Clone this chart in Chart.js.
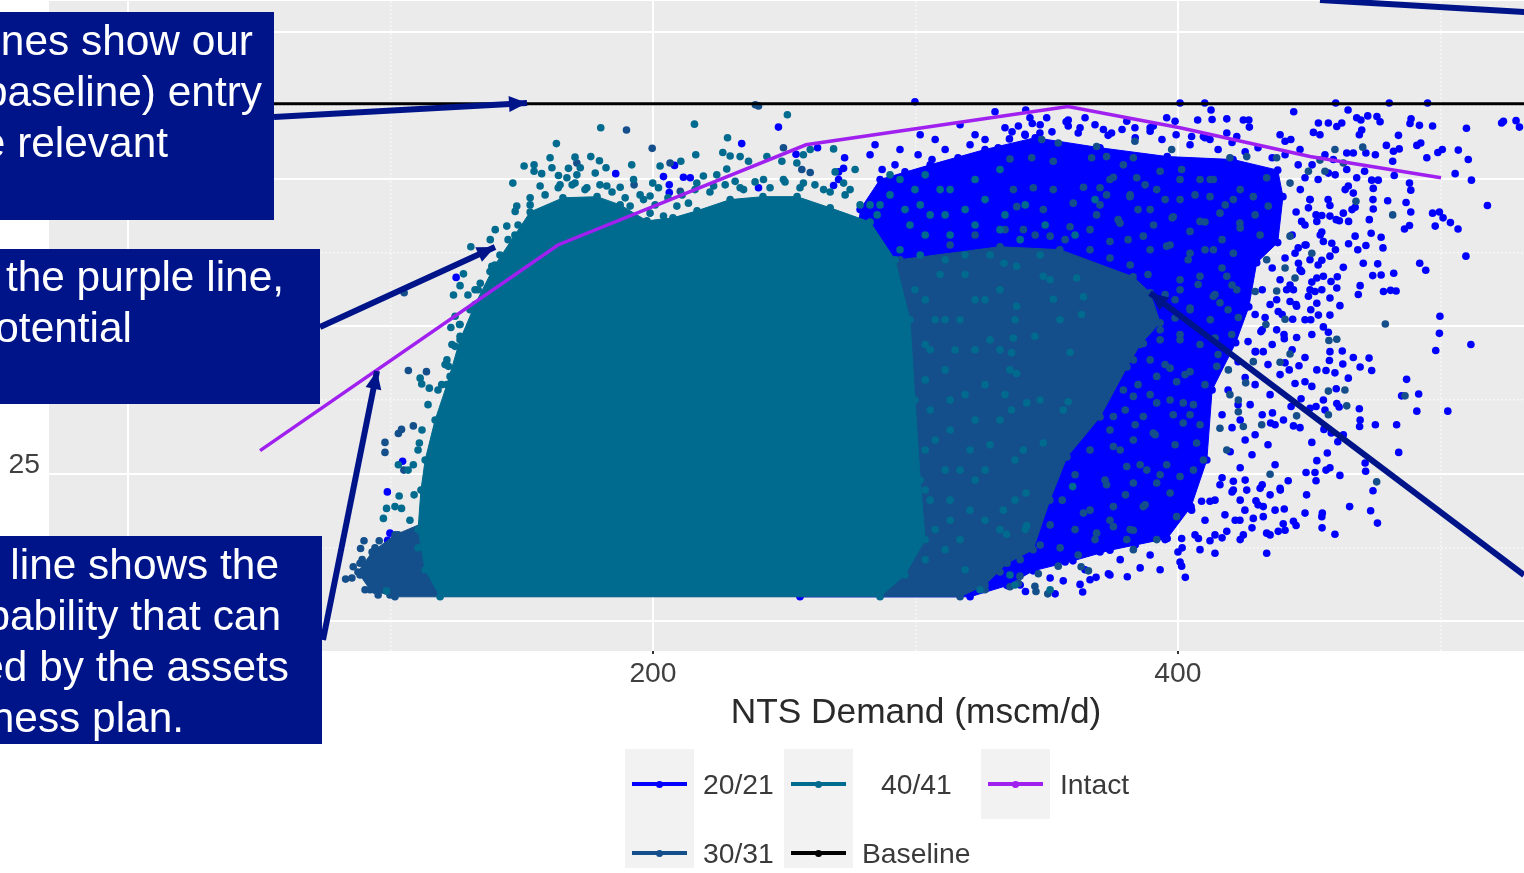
<!DOCTYPE html>
<html>
<head>
<meta charset="utf-8">
<title>NTS Demand</title>
<script src="https://cdn.jsdelivr.net/npm/chart.js@4"></script>
<style>
    html, body { margin: 0; padding: 0; background: #fff; }
    #stage { position: relative; width: 1524px; height: 873px; overflow: hidden; font-family: "Liberation Sans", Arial, sans-serif; }
    #chart { position: absolute; left: 0; top: 0; }
    svg { position: absolute; left: 0; top: 0; }
    .box { position: absolute; left: 0; background: #00148a; }
    .note { position: absolute; color: #fff; font-size: 42.4px; line-height: 51px; white-space: nowrap; text-align: right; }
    .key { position: absolute; width: 69px; background: #f2f2f2; }
    .key i { position: absolute; left: 7px; width: 55px; height: 4px; }
    .key b { position: absolute; left: 31px; width: 7px; height: 7px; border-radius: 50%; }
    .lab { position: absolute; color: #3a3a3a; font-size: 28.3px; line-height: 32px; white-space: nowrap; }
</style>
</head>
<body>
<div id="stage">
    <canvas id="chart" width="1783" height="873"></canvas>
    <svg width="1524" height="873" id="arrows"></svg>
</div>
<script>
    // Series names and axis ticks
    const seriesNames = ['20/21', '30/31', '40/41', 'Baseline', 'Intact'];
    const seriesColors = ['#0000ff', '#144f8b', '#006b8e', '#000000', '#a020f0'];
    const yTickValues = [25, 50, 75, 100];

    // Lines, x in mscm/d
    const baselineX = [-30, 631];
    const baselineY = [87.75, 87.75];
    const intactX = [50.3, 163.8, 258.3, 358.1, 400.8, 450.3, 500.2];
    const intactY = [28.9, 63.8, 80.8, 87.3, 83.7, 78.8, 75.2];

    // Solid parts of the clouds, outline
    const blueOutline = [[278.9,69.8],[286.5,74.9],[305.6,77.4],[326.5,80],[345.6,82],[370.3,80.3],[395.9,78.8],[421,78.3],[438,76.5],[440,72],[438,64.2],[430,60.8],[427,53.3],[422,47.2],[413,39.2],[411,27.3],[405,19.4],[395.9,14],[374.1,12],[360,10.2],[344.8,8.5],[334.9,6],[320.8,4.1],[256,4.1]];
    const midOutline = [[294.1,61.3],[332.2,63.5],[355,63],[382.9,58.4],[389.4,55.7],[393.2,50.6],[385.6,46.9],[380.6,43.1],[370.3,34.6],[357.7,27.8],[351.2,20.5],[344.8,12.1],[334.9,9.8],[326.5,6.1],[317,4.1],[101.7,4.1],[92.2,5.3],[87.6,8.3],[93,11.7],[101.7,14.6],[115,17.1]];
    const tealOutline = [[118.9,4.1],[113.2,8.7],[110.5,15.5],[111.6,22.2],[113.2,27.3],[117,34.1],[121.5,40.1],[126.5,47.7],[132.2,53.7],[139.8,60.4],[147.4,65.5],[153.2,69.4],[165.7,71.8],[178.7,72],[187.5,70.6],[197.7,67.9],[207.6,68.4],[216.8,69.6],[229.4,71.5],[241.9,72],[254.9,72],[267.5,70.1],[282.7,67.7],[292.2,61.3],[297.9,51.1],[299.8,37.5],[301.8,23.9],[303.7,13.8],[296,7.8],[286.5,4.1]];

    // Loose points around the clouds
    const bluePoints = [[400.8,87.9],[410.2,87.9],[460.1,87.9],[480.5,87.9],[495.1,87.9],[412.6,86.7],[444.1,86.4],[464.8,86.7],[472.3,85.7],[475.8,85.6],[477,84.7],[488.8,85.2],[488.4,84.4],[492,84.1],[497,84],[509.9,83.6],[524,84.8],[523.3,84.5],[528.8,84.9],[530.1,83.8],[407.5,85],[413,85.1],[418.6,85.2],[424.9,85],[427,85],[427.2,83.8],[453.5,84.5],[457.3,84.5],[460.5,83.9],[462.4,84.5],[468.1,85.4],[469.7,85],[470,83.3],[469.1,82.5],[484,82.4],[451.6,82.9],[454.1,82.5],[438.9,82.5],[440.8,81.4],[443,81.7],[479.4,80.7],[482.1,79.7],[484.3,80.1],[491,80.7],[492.5,81.1],[506.8,79.9],[500.7,80],[499,79.5],[494.8,78.6],[510.6,78.3],[505.6,75.9],[511.8,74.8],[517.9,70.5],[497,69.2],[499.6,69.4],[501,68.4],[503.8,67.6],[506.7,66.5],[498,67],[509.7,61.9],[492.1,60.7],[494.4,59.5],[499.8,51.7],[499.6,48.8],[511.6,46.9],[498.2,45.9],[487.1,41],
        [491.7,38.5],[485.2,38.2],[491,35.6],[502.8,35.6],[483.3,33.3],[484.1,28.6],[475.2,33.3],[469.1,36],[469.4,34.1],[469.2,33],[471.3,26.8],[471.5,25.4],[474.3,22.1],[465.4,19.4],[473.4,18.7],[476,16.6],[459.8,14.7],[454.9,15.8],[454.8,17.7],[455,18.3],[448.4,18.3],[449,21.4],[461.7,24.7],[457.9,26],[456.4,25.6],[452.2,25.2],[452.6,23.8],[448.8,25.2],[452.9,27.2],[456.9,28.5],[451,30.3],[460.9,30.4],[463,31.6],[458.4,31.9],[455.6,32.5],[446.5,32.8],[444,33.1],[440.2,34.1],[435.3,33.6],[436,35.3],[461.4,36.3],[460.5,36.9],[456,35.8],[452.6,36.4],[450.3,36.1],[455.4,37.5],[446.9,37.7],[443.1,36.4],[460.3,39.4],[451,39.8],[448.4,40.6],[444.6,40.3],[433.8,11.5],[402.8,7.4],[401.4,9.3],[400,11.7],[380.7,7.5],[373.5,8],[368.8,7.4],[363.7,4.9],[362.7,6.2],[356.3,6.8],[353.2,4.6],[341.9,5],[440.8,15.4],[444,16.9],[445,16.2],[440.1,16.5],[438.2,15.2],[435.1,14.6],[432.5,19.4],[429.7,20.4],[425.5,18.8],[423.6,17.1],[424.9,14.6],[418.6,15.2],[412.2,13.6],[407.8,14],[401.4,14],[440.5,19],[435.1,21.4],[438.9,22.5],[442,23.8],[426.2,22.2],[421.1,23.7],[431.3,22.5],[416,23.1],[421.1,22.2],[412.2,20.3],[409,20.3],[405.2,18.8],[432.5,17.7],[428.7,17.4],[433.8,14.9],
        [482.2,59],[478.3,55.9],[481,56.1],[483.1,56],[477.4,58.7],[474.2,58.6],[476.1,60.6],[470.6,60.7],[463,60],[477.4,65.1],[478.1,63.3],[473.6,65.8],[467.5,65.3],[471.6,63.7],[468.5,63],[465,64],[486.3,66.5],[488.2,67.1],[488.7,69.4],[479.9,71.3],[486.9,71],[474.3,71.5],[474.4,69.9],[472.9,68.1],[465,67.8],[461.5,67.9],[463,69.2],[467.5,70.2],[474.4,73.4],[473.8,74.8],[476.3,74.8],[488.2,74.3],[488.7,73.1],[482.4,75.6],[481.8,78],[471.1,76.3],[475.2,79.1],[471.6,79.4],[466.8,79.4],[464.3,79.4],[459.2,78.3],[457.3,76],[464.3,76.6],[468.1,75.2],[464.9,73.8],[466.8,72.6],[457.9,70.5],[469.4,56.9],[468.7,55.4],[460.7,58.4],[458.3,57.6],[455.4,58.5],[452.9,58.2],[451,57.5],[452.2,55.9],[454.8,56.2],[460.5,56.5],[457.9,54.8],[461.7,53.5],[452.9,53.9],[449.7,55.1],[450.6,52.8],[453.5,51.9],[457.9,51.9],[450.6,51.1],[443.7,51.2],[438.2,52.5],[437.6,54.5],[442.7,54.2],[445.2,53.4],[433.2,51.5],[431.6,49.1],[437.6,49.4],[440.5,47.9],[445.2,48.1],[451,48.6],[455.4,49.9],[457.3,49],[457.9,45.7],[462.6,45.8],[466.8,44.7],[472.8,44.6],[469.4,43.1],[462.8,43.6],[457.7,44.2],[459.8,42.1],[464.9,41.2],[456.4,42.5],[452.9,42.6],[473.8,42.5],[448.4,44.7],[446.1,43.3],[442.4,42.6],[440.8,43.8],[432.5,45.7],[429.6,45.7],[454.8,61.2],[457.9,61.9],[454.8,66],[458.6,64.1],[455.4,64.4],[452.9,67.8],[454.8,68.8],[457.9,68.7],[449.7,70.1],[450.3,71.5],[447.1,67.8],[448.4,63.8],[444.6,62.4],[450.3,61.3],[445.9,60.7],[447.1,59.3],[444,56.2],[441.4,56.2],
        [342,86.7],[350,85.4],[344.5,84.4],[339.2,84],[358.2,85],[364.6,85.4],[380.5,84.8],[383.6,83.7],[395.7,85.4],[398.9,84.8],[390.6,84],[335.8,81.8],[341.7,82.6],[347.4,82.8],[358.2,84],[362,82.8],[371.6,83.4],[374.7,82.8],[389.4,83.1],[405.2,82.2],[409.7,82.2],[412.2,81.7],[422.4,82.2],[418.6,82.8],[299.8,88.1],[330.3,86.4],[343.6,85.4],[317,84.2],[301.8,82.5],[284.6,80.8],[282.7,79.1],[294.1,80],[307.5,81.7],[322.7,82.5],[334.1,83.7],
        [247.8,83.8],[233.8,81],[185.8,75.9],[125,58.3],[204,75.4],[208.2,77.3],[211.6,75.3],[214.2,75.2],[206.2,74],[206.2,72.7],[273,78.6],[262.7,80.3],[272.6,76.8],[270.7,76.2],[270.7,74.9],[268.8,73.9],[254.5,79.2],[240.2,73.5],[194.5,62],[104.6,27.1],[98.8,21.9],[99.8,14.9],[98.9,13.7],
        [287.3,76.6],[292.2,77.4],[296,76.2],[301,79.1],[306.3,78.3],[311.3,80],[316.2,78.6],[320.8,80.8],[326.5,81.7],[331.5,80.3],[336.8,83],[341.8,82.4],[347.5,84.2],[352,83],[357.4,84.7],[362.7,83.7],[368.4,84.2],[373.4,82.4],[378.7,83.4],[383.7,82],[389.4,83.7],[393.9,81.7],[399.3,82.5],[404.6,80.8],[410.3,82],[415.3,80],[420.6,81.2],[425.6,79.6],[430.5,80.3],[435.9,78.6],[440.8,79.1],[445.8,77.4],[448.4,75.2],[446.6,73.2],[450.3,71.5],[445,69.4],[448.4,67.2],[443.5,65.5],[445.8,63.3],[440.8,61.6],[435.9,59.9],[438.9,57.9],[432.1,56.2],[435.1,53.7],[429.4,52],[432.1,49.4],[426.7,47.4],[429.4,45.7],[422.9,44],[425.6,41.3],[419.1,39.2],[422.9,36.7],[416.8,35],[420.6,32.8],[425.6,30.7],[419.9,28.7],[423.7,26],[416.8,24.3],[420.6,21.9],[414.1,20.5],[417.9,18],[410.3,17.1],[414.1,14.6],[406.5,14.6],[401.6,12.4],[395.1,13.8],[389.4,11.2],[383.7,12.9],[378,10.4],[370.3,11.7],[364.6,8.7],[357,10],[351.3,7.3],[345.6,8.7],[339.9,6.1],[332.2,7],
        [446.5,80],[451.1,77.4],[456,79.1],[453.4,74.9],[459.9,75.7],[463.7,73.2],[457.2,71.5],[452.6,68.9],[460.3,68.1],[466.3,69.8],[454.2,65.5],[448.8,63.8],[460,63],[453.4,60.4],[446.5,59.6],[442.7,57],[450.3,56.2],[445,53.7],[439.7,52],[448.4,51.1],[440.4,48.6],[435.9,46.9],[443.5,46],[434.3,43.5],[438.9,41.8],[429.4,40.1],[435.1,38.4],[427.5,36.7],[432.1,35],[437,33.3],[429.4,31.6],[423.7,34.1],[434.3,29.9],[428.2,28.2],[437,26.5],[425.6,23.9],[432.1,23.1],[439,22.2],[423.7,20.5],[430.5,19.7],[437,18.8],[421.8,17.1],[428.2,15.8],[416.8,14.1],[423.7,13.8],[408.4,12.1],[414.1,11.5],[400.8,10],[393.2,8.7],[385.6,9],[374.1,7.8],[366.5,7]];

    const midPoints = [[336,78.4],[344.3,78.6],[352.5,78],[348.1,81.7],[354.4,81.1],[367.1,78.6],[369,80.5],[372.8,78.8],[383,78.6],[383.6,81.4],[379.2,77.4],[393.2,76.3],[401.4,76.6],[397.6,80],[413.5,74.9],[408.4,74.9],[419.8,78.6],[426.2,78.8],[433.8,75.2],[437.6,78.6],[442.7,74.3],[449.7,76.3],[456,76.3],[454.1,78.2],[459.8,80],[463,77.7],[470.4,80.4],[467.8,71.2],[481.8,68.9],[451,62.4],[442.7,65.3],[440.8,59.9],[444.6,58.2],[437.6,56],[429.4,55.9],[433.8,61.3],[423,51.5],[440.8,51.2],[433.5,50.3],[479,50.4],[457.5,47.6],[460.5,47.8],[442.7,45.3],[438.9,43.9],[414.8,43.2],[428.7,44],[420.5,48.6],[414.1,48],
        [337.3,73.2],[344.9,73.5],[352.5,73.2],[364,73.6],[370.3,73.5],[375.4,75.3],[384.3,75.2],[391.9,73.2],[400.8,71.5],[412.2,72],[421.1,71.5],[428.7,72],[434.4,70.4],[338.6,70.3],[348.7,69.8],[360.1,70.9],[372.8,72.3],[381.7,72],[389.4,69.8],[398.2,68.6],[408.4,67.8],[416,69.2],[423.6,67.5],[431.3,65.5],[341.1,66.4],[351.3,65.3],[358.9,66.9],[369,68.9],[377.9,67.5],[386.8,65.3],[395.7,63.6],[404.6,62.4],[413.5,63],[421.1,62.4],[408.4,58.5],[418.6,58.5],[413.5,55.1],[404.6,53.1],[422.4,56.2],[416,54],[400.8,56.2],
        [386.8,47.1],[393.2,49.4],[400.8,48.6],[383,44.3],[391.9,41.5],[399.5,40.6],[397,42.9],[404.6,42.3],[419.2,42.6],[425.8,40.4],[423,37.5],[423,35.5],[419.8,38.4],[405.9,36.7],[402,37],[391.9,37],[383,38.1],[379.2,39.2],[375.4,34.7],[386.8,34.7],[398.2,35],[408.4,33.3],[416,32.7],[424.9,33],[431.9,33.3],[445.2,34.8],[457.3,35],[464.3,36.5],[457.3,39],[463.6,39.2],[486.5,38.2],[475.7,23.6],[435.1,24.9],[418.6,29],[409.7,27.3],[407.1,30.2],[402,33.6],[395.7,26.5],[390.6,31.9],[383,30.7],[375.4,29.6],[388.1,25.6],[400.8,24.5],[405.9,25.6],[391.9,23.4],[380.5,26.2],[372.8,23.1],[383,23.4],[397,21.7],[386.8,19.4],[375.4,19.4],[399.5,17.7],[383,15.4],[375.4,16],[364,18.3],[369,14.9],[380.5,13.8],[391.9,13.8],[383,12.1],[354.4,9.3],[363.1,9.2],[365.9,8.5],[346.8,8],[339.8,7.6],[345.5,5.9],[345.9,5],[336,5.8],[339.2,6.4],[350.4,4.6],
        [108.7,33.1],[103,31.8],[104.2,32.5],[97.9,30.3],[97.9,28.6],[105.1,25.6],[89.9,13.6],[88.6,12.3],[95.7,13.6],[88.4,9.8],[85.8,9.2],[82.9,7.1],[88.4,7.8],[90.9,7.5],[94.1,5.2],[189.9,83.3],[199.7,80.2],[106.8,42.5],[113.7,42.3],[105.2,55.7],[240.2,87.4],[249.7,80.3],[256.7,76.6],[259.9,76.1],[171,77.7],[206.5,77.7],[210.4,72.9],[192.8,74],[239,87.6],
        [313.2,63.8],[322.7,65.5],[334.1,66.4],[345.6,65.5],[357,64.7],[366.5,63],[374.1,61.6],[381.8,60.4],[388.6,58.8],[395.1,55.4],[398.9,51.4],[393.2,47.7],[389.4,44.3],[384.8,40.1],[379.9,35.8],[374.1,32.4],[366.5,29],[360.8,24.8],[355.9,20.5],[351.3,16.3],[347.5,12.9],[339.9,10.4],[332.2,8.3],[326.5,5.3],[89.2,10.4],[94.1,12.4],[85.3,7.3],[90.3,5.3],[95.3,4.4],[99.8,4.4],[105.5,12.9],[102.9,14.6],
        [374.1,74.9],[381.8,72.3],[387.5,74],[395.1,71.5],[400.8,74.9],[406.5,72.3],[412.3,74.9],[418,70.6],[423.7,73.2],[429.4,68.9],[370.3,70.6],[377.2,68.1],[384.8,69.8],[390.7,67.2],[397.8,68.4],[404.6,66.1],[410.3,67.7],[416.8,64.7],[423.7,66.7],[366.5,66.4],[374.1,64.4],[381,64.7],[389.4,63],[397,63.8],[403.9,61.3],[410.3,63],[416.8,59.9],[400.8,57.9],[407.7,57.1],[414.1,55.4],[420.6,57],[398.9,54.5],[404.6,52.8],[412.3,51.1],[419.1,52.8],[400.8,47.7],[408.4,46.9],[415.3,45.2],[395.1,43.5],[402.7,41.8],[410.3,40.1],[389.4,38.4],[397,37.5],[404.6,35],[383.7,33.3],[391.3,31.6],[398.9,29.9],[378,29],[385.6,26.5],[393.2,24.8],[372.2,23.9],[380,21.4],[387.5,19.7],[366.5,18.8],[374.1,17.1],[381.8,15.5],[360.8,15.5],[368.4,13.8],[355.1,12.4],[362,11.2]];

    const tealPoints = [[180.1,83.7],[215.8,84.3],[251.2,85.9],[163.2,81],[228.4,82],[216.3,79.1],[226.6,79.5],[229.4,78.9],[210.6,78],[191.9,77.4],[202.7,77.2],[160.8,78.6],[161.5,76.9],[170.3,78.7],[176.3,78.8],[179.6,78.1],[150.9,77.2],[154.7,77.4],[154.7,76.3],[157.6,75.9],[167.8,76.8],[172.3,76.9],[178,76],[182.1,76.9],[164,75.6],[167.2,75.2],[171,75.7],[146.6,74.3],[157,73.8],[164.6,74],[170.3,74.3],[174.8,73.5],[182.4,73.8],[187.5,73.6],[192.6,74.9],[199.9,74.3],[202.1,73.5],[216.7,74.3],[219.2,75.5],[224.3,75.7],[228.1,76.7],[231.3,74.6],[233.2,78.8],[236.4,78],[243.4,78.8],[249.1,78],[254.8,77.7],[257.3,79.1],[259.9,80],[268.8,80.1],[153.2,71.8],[148.1,70.4],[147.5,69.5],[144.3,67],[139.9,66.4],[138,64.7],[130.6,63.5],[127.8,58.9],[126.5,56.9],[124,55.3],[129.5,55.3],[134.2,57.3],[132.2,56.2],[138.6,60.2],[139.2,58.5],[124.6,51.7],[123,49.8],[126.3,50.3],[126.5,48.3],[124.6,46.6],[121.5,44.3],[122.1,43.2],[111.3,41.2],[111.9,40.2],[114.8,39.5],[119.5,40.1],[122.7,41.5],[198.9,72.1],[196.4,71.5],[191.3,70.4],[198.9,69.2],[209.1,70.4],[204,68.7],[213.5,70.9],[223.1,73.8],[234.5,73.2],[242.1,74.9],[249.7,74.9],[257.3,74.3],[265,73.2],[272.6,74.3],
        [111,30.2],[103,26.5],[108.7,26.5],[103.3,21.2],[98.5,19.1],[101.7,19.4],[104.2,19.1],[97.3,17.4],[98.5,5.1],
        [297.9,67.2],[305.6,68.9],[313.2,65.5],[322.7,67.2],[332.2,66.4],[339.9,64.7],[301.8,62.1],[311.3,61.3],[318.9,62.1],[328.4,62.1],[347.5,62.1],[303.7,54.5],[311.3,51.1],[305.6,46],[315.1,46],[303.7,40.9],[313.2,37.5],[307.5,30.7],[317,25.6],[305.6,20.5],[313.2,17.1],[303.7,10.4],[322.7,54.5],[328.4,47.7],[336,42.6],[332.2,34.1],[322.7,34.1],[320.8,18.8],[326.5,25.6],[311.3,12.1],[318.9,8.7],[332.2,56.2],[351.3,57.9],[337.9,51.1],[355.1,51.1],[347.5,37.5],[337.9,27.3],[341.8,15.5],[309.4,73.2],[299.8,73.2],[290.3,72.3],[282.7,70.6],[275.1,73.2],[277,76.6],[269.4,76.2],[290.3,75.7],[336,7.8],[324.6,5.3],[351.3,5.3],[337.9,6.1],
        [333.7,60.7],[338.5,60.2],[348.7,58.5],[361.4,58.2],[352.5,54.6],[364,55],[338.5,53.4],[363.3,52],[337.3,48],[345.5,48.3],[358.9,45.6],[336.6,45.5],[338.5,42],[342.4,37],[358.2,37.2],[356.3,35.8],[336.6,35.8],[348.7,30.2],[341.1,29],[342.1,21.7],[359.9,22.8],[342.4,16.2],[334.7,14.7],[333.5,18.8],
        [114.3,10.4],[110.5,12.4],[107.4,17.1],[109,21.4],[106.7,25.6],[110.5,29],[112,32.4],[114.3,36.7],[118.1,39.2],[120.8,43.5],[123.4,46.9],[126.5,50.3],[130.3,52.8],[133.4,56.2],[137.9,59.3],[141.7,62.1],[144.8,64.7],[148.6,67.2],[153.2,70.6],[158.9,72.3],[163.9,73.5],[169.2,74],[174.1,73.2],[179.8,74],[184.4,72.8],[189.4,71.8],[195.1,72.3],[200.8,70.6],[205.7,71.8],[211.1,72.3],[216,73.2],[221.7,72.8],[227.5,74],[233.2,73.5],[238.9,74.5],[244.6,73.5],[250.3,74.5],[256,73.5],[261.7,74],[267.5,72.8],[273.2,72.3],[278.9,70.6],[285.4,68.9],[294.1,63],[299.8,56.2],
        [303.7,65.5],[309.4,58.8],[307.5,51.1],[303.7,46.9],[311.3,42.6],[318.9,38.4],[305.6,35.8],[313.2,32.4],[303.7,29],[311.3,25.6],[303.7,22.2],[322.7,23.9],[313.2,20.5],[307.5,15.5],[317,13.8],[326.5,17.1],[318.9,58.8],[326.5,54.5],[317,51.1],[322.7,46],[332.2,46],[326.5,40.1],[334.1,38.4],[328.4,29.9],[320.8,29],[337.9,20.5],[332.2,15.5],[286.5,70.6],[296,69.8],[301.8,70.6],[311.3,68.9],[318.9,69.8],[326.5,71.5],[334.1,68.9],[341.8,70.6],[349.4,67.2],[360.8,65.5],[368.4,71.5],[294.1,74.9],[303.7,75.7],[313.2,73.2],[322.7,74.9],[332.2,76.6]];

    // Annotation boxes and their visible text
    const noteBoxes = [
        { top: 12, width: 274, height: 208 },
        { top: 249, width: 320, height: 155 },
        { top: 536, width: 322, height: 208 }
    ];
    const noteLines = [
        ['nes show our', 253, 40], ['baseline) entry', 262, 91], ['e relevant', 168, 142],
        ['the purple line,', 284, 276], ['otential', 132, 327],
        ['line shows the', 279, 564], ['pability that can', 281, 615], ['ed by the assets', 289, 666], ['ness plan.', 184, 717]
    ];
    const arrowLines = [
        [274, 117, 527, 103],
        [320, 327, 495, 247],
        [323, 640, 377, 371],
        [1524, 575, 1150, 293],
        [1320, 0, 1540, 13]
    ];

    const legendKeys = [
        { series: 0, left: 625, top: 749, height: 70, cy: 35, label: 703, labelY: 784 },
        { series: 1, left: 625, top: 819, height: 49, cy: 34, label: 703, labelY: 853 },
        { series: 2, left: 784, top: 749, height: 70, cy: 35, label: 881, labelY: 784 },
        { series: 3, left: 784, top: 819, height: 49, cy: 34, label: 862, labelY: 853 },
        { series: 4, left: 981, top: 749, height: 70, cy: 35, label: 1060, labelY: 784 }
    ];

    const toXY = pairs => pairs.map(p => ({ x: p[0], y: p[1] }));
    const zipXY = (xs, ys) => xs.map((x, i) => ({ x, y: ys[i] }));

    function areaSet(pairs, color, order) {
        return {
            yAxisID: 'y', data: toXY(pairs), showLine: true, fill: 'shape', backgroundColor: color,
            borderColor: color, borderWidth: 1, pointRadius: 3.8,
            pointBackgroundColor: color, pointBorderWidth: 0, order
        };
    }
    function pointSet(pairs, color, order) {
        return {
            yAxisID: 'y', data: toXY(pairs), showLine: false, pointRadius: 3.8,
            pointBackgroundColor: color, pointBorderWidth: 0, order
        };
    }
    function lineSet(points, color, width, order) {
        return { yAxisID: 'y', data: points, showLine: true, borderColor: color, borderWidth: width, pointRadius: 0, fill: false, order };
    }

    const panelBackground = {
        id: 'panelBackground',
        beforeDraw(chart) {
            const a = chart.chartArea;
            chart.ctx.fillStyle = '#ebebeb';
            chart.ctx.fillRect(a.left, a.top, a.width, a.height);
        }
    };

    const inRange = s => { s.ticks = s.ticks.filter(t => t.value >= s.min && t.value <= s.max); };
    const noPadding = s => { s.paddingTop = 0; s.paddingBottom = 0; s.paddingLeft = 0; s.paddingRight = 0; };

    new Chart(document.getElementById('chart'), {
        type: 'scatter',
        data: {
            datasets: [
                areaSet(blueOutline, seriesColors[0], 70),
                pointSet(bluePoints, seriesColors[0], 60),
                areaSet(midOutline, seriesColors[1], 50),
                pointSet(midPoints, seriesColors[1], 40),
                areaSet(tealOutline, seriesColors[2], 30),
                pointSet(tealPoints, seriesColors[2], 20),
                lineSet(zipXY(baselineX, baselineY), seriesColors[3], 3, 10),
                lineSet(zipXY(intactX, intactY), seriesColors[4], 3.5, 5)
            ]
        },
        options: {
            responsive: false,
            animation: false,
            layout: { autoPadding: false, padding: { top: 1, left: 0, right: 0, bottom: 0 } },
            plugins: { legend: { display: false }, tooltip: { enabled: false } },
            scales: {
                x: {
                    type: 'linear', min: -30.1, max: 630.5,
                    afterBuildTicks: inRange,
                    afterFit(s) { s.height = 222; noPadding(s); },
                    border: {
                        display: false,
                        dash: c => (c.tick && c.tick.value % 200 === 0 ? [] : [2, 2])
                    },
                    grid: {
                        color: c => (c.tick && c.tick.value % 200 === 0 ? '#ffffff' : '#f7f7f7'),
                        lineWidth: c => (c.tick && c.tick.value % 200 === 0 ? 2 : 1.5),
                        tickColor: c => (c.tick && c.tick.value % 200 === 0 ? '#333333' : 'rgba(0,0,0,0)'),
                        tickLength: 3
                    },
                    ticks: {
                        stepSize: 100, includeBounds: false, autoSkip: false, maxRotation: 0, padding: 3,
                        color: '#404040', font: { family: 'Liberation Sans', size: 28.3 },
                        callback: v => (v % 200 === 0 ? String(v) : '')
                    },
                    title: {
                        display: true, text: 'NTS Demand (mscm/d)', color: '#2a2a2a',
                        font: { family: 'Liberation Sans', size: 35.3 },
                        padding: { top: 0, bottom: 139 }
                    }
                },
                yLabels: {
                    type: 'linear', position: 'left', min: -6.45, max: 103.85,
                    afterBuildTicks(s) { s.ticks = yTickValues.map(value => ({ value })); },
                    afterFit(s) { s.width = 49; noPadding(s); },
                    border: { display: false },
                    grid: { display: false, drawTicks: false },
                    ticks: {
                        padding: 9, autoSkip: false, color: '#404040',
                        font: { family: 'Liberation Sans', size: 28.3 }
                    }
                },
                y: {
                    type: 'linear', position: 'left', min: -5.1, max: 105.2,
                    afterBuildTicks: inRange,
                    afterFit(s) { s.width = 0; noPadding(s); },
                    border: {
                        display: false,
                        dash: c => (c.tick && c.tick.value % 25 === 0 ? [] : [2, 2])
                    },
                    grid: {
                        color: c => (c.tick && c.tick.value % 25 === 0 ? '#ffffff' : '#f7f7f7'),
                        lineWidth: c => (c.tick && c.tick.value % 25 === 0 ? 2 : 1.5),
                        tickColor: c => (c.tick && c.tick.value === 25 ? '#333333' : 'rgba(0,0,0,0)'),
                        tickLength: 3
                    },
                    ticks: { stepSize: 12.5, includeBounds: false, autoSkip: false, display: false }
                }
            }
        },
        plugins: [panelBackground]
    });

    // Arrows over the chart
    const svgNS = 'http://www.w3.org/2000/svg';
    const svg = document.getElementById('arrows');
    arrowLines.forEach((a, i) => {
        const line = document.createElementNS(svgNS, 'line');
        line.setAttribute('x1', a[0]); line.setAttribute('y1', a[1]);
        line.setAttribute('x2', a[2]); line.setAttribute('y2', a[3]);
        line.setAttribute('stroke', '#00148a');
        line.setAttribute('stroke-width', 6);
        svg.appendChild(line);
        if (i === 4) return;
        // arrow head at the end of the line
        const ang = Math.atan2(a[3] - a[1], a[2] - a[0]);
        const head = [[0, 0], [-18, -8], [-18, 8]].map(p => {
            const hx = a[2] + p[0] * Math.cos(ang) - p[1] * Math.sin(ang);
            const hy = a[3] + p[0] * Math.sin(ang) + p[1] * Math.cos(ang);
            return hx + ',' + hy;
        }).join(' ');
        const tip = document.createElementNS(svgNS, 'polygon');
        tip.setAttribute('points', head);
        tip.setAttribute('fill', '#00148a');
        svg.appendChild(tip);
    });

    // Boxes, their text and the legend are plain elements on top
    const stage = document.getElementById('stage');
    function addEl(cls, css, text) {
        const el = document.createElement('div');
        el.className = cls;
        Object.assign(el.style, css);
        if (text) el.textContent = text;
        stage.appendChild(el);
        return el;
    }
    noteBoxes.forEach(b => addEl('box', { top: b.top + 'px', width: b.width + 'px', height: b.height + 'px' }));
    noteLines.forEach(l => addEl('note', { right: (1524 - l[1]) + 'px', top: (l[2] - 25) + 'px' }, l[0]));
    legendKeys.forEach(k => {
        const key = addEl('key', { left: k.left + 'px', top: k.top + 'px', height: k.height + 'px' });
        const color = seriesColors[k.series];
        key.innerHTML = '<i style="top:' + (k.cy - 2) + 'px;background:' + color + '"></i>' +
            '<b style="top:' + (k.cy - 3.5) + 'px;background:' + color + '"></b>';
        addEl('lab', { left: k.label + 'px', top: (k.labelY - 16) + 'px' }, seriesNames[k.series]);
    });
</script>
</body>
</html>
